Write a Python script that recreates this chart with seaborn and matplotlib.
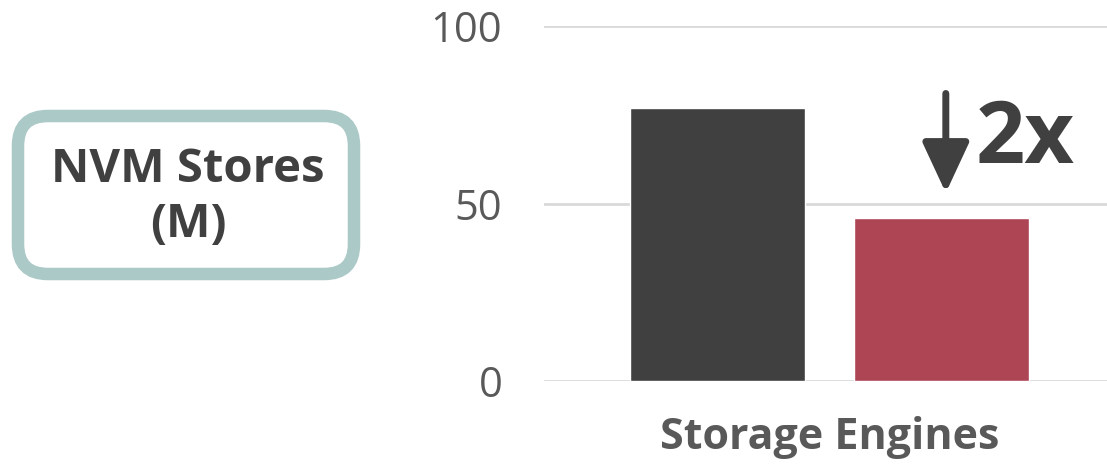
import pandas as pd
import seaborn as sns
import matplotlib.pyplot as plt
from matplotlib.patches import FancyBboxPatch

# values
categories = ["Storage Engines", "Storage Engines"]
engines = ["Baseline", "NVM-aware"]
nvm_stores = [77, 46]
bar_colors = ["#404040", "#ad4555"]
y_ticks = [0, 50, 100]
box_label = "NVM Stores\n(M)"
speedup_label = "2x"

sns.set_theme(style="white")
plt.rcParams["font.family"] = ["Open Sans", "DejaVu Sans"]

df = pd.DataFrame({"category": categories, "engine": engines, "stores": nvm_stores})

fig = plt.figure(figsize=(11.07, 4.68), dpi=100)
ax = fig.add_axes([0.4914, 0.1859, 0.5086, 0.7585])

sns.barplot(data=df, x="category", y="stores", hue="engine",
            palette=bar_colors, gap=0.22, width=0.8, legend=False,
            saturation=1, ax=ax)

ax.set_ylim(0, 100)
ax.set_xlim(-0.51, 0.496)
ax.set_yticks(y_ticks)
ax.yaxis.grid(True, color="#d9d9d9", linewidth=2)
ax.set_axisbelow(True)
for s in ax.spines.values():
    s.set_visible(False)
ax.tick_params(axis="y", length=0, pad=30, labelsize=30, labelcolor="#595959")
ax.tick_params(axis="x", length=0, pad=25, labelsize=31, labelcolor="#595959")
for lbl in ax.get_xticklabels():
    lbl.set_fontweight("bold")
ax.set_xlabel("")
ax.set_ylabel("")

# arrow + label over the second bar
ax.annotate("", xy=(0.208, 53), xytext=(0.208, 81),
            arrowprops=dict(arrowstyle="-|>,head_length=1.55,head_width=0.72",
                            mutation_scale=20, lw=5, color="#404040",
                            shrinkA=0, shrinkB=0))
ax.text(0.262, 80, speedup_label, fontsize=62, fontweight="bold",
        color="#404040", ha="left", va="top")

# rounded label box on the left
box = FancyBboxPatch((18 / 1107, 1 - 274 / 468), 336 / 1107, 158 / 468,
                     boxstyle="round,pad=0,rounding_size=0.027",
                     transform=fig.transFigure, facecolor="white",
                     edgecolor="#aac9c7", linewidth=9,
                     mutation_aspect=1107 / 468)
fig.patches.append(box)
fig.text(188 / 1107, 1 - 197 / 468, box_label, ha="center", va="center",
         fontsize=34, fontweight="bold", color="#404040", linespacing=1.2)

fig.savefig("out.png", dpi=100)
